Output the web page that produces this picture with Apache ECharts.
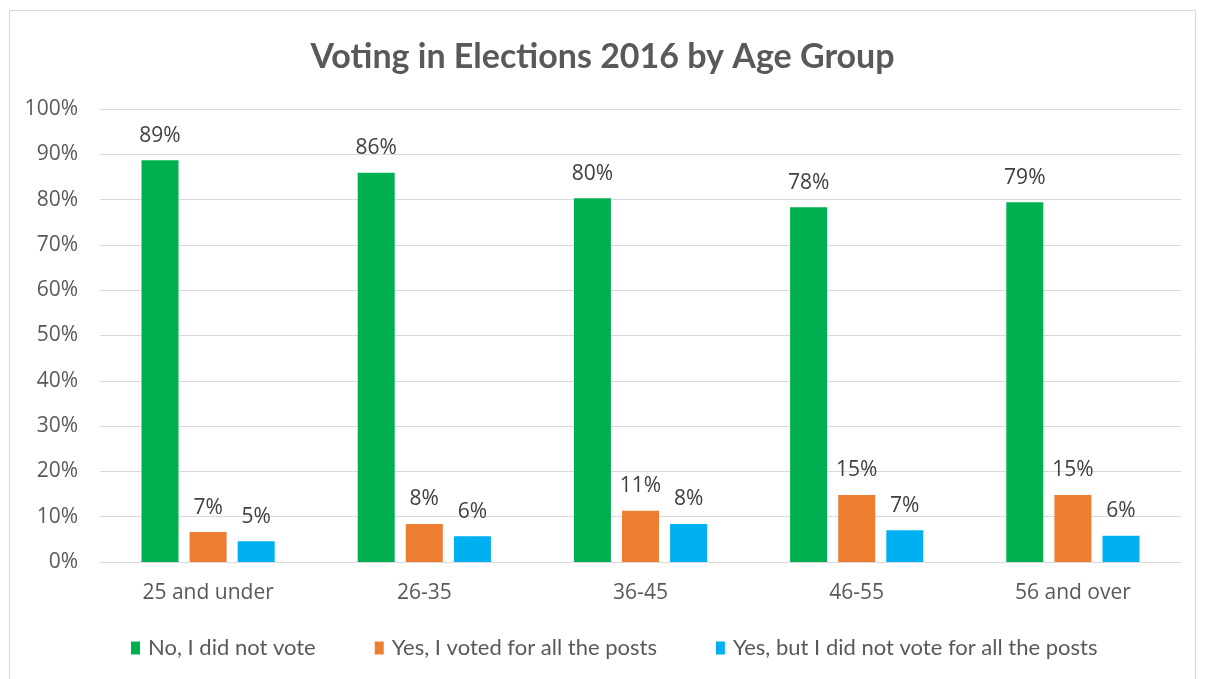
<!DOCTYPE html>
<html>
<head>
<meta charset="utf-8">
<script src="https://cdn.jsdelivr.net/npm/echarts@6/dist/echarts.min.js"></script>
<style>
  html, body { margin: 0; padding: 0; background: #fff; }
  #chart { width: 1205px; height: 679px; }
</style>
</head>
<body>
<div id="chart"></div>
<script>
// Age groups along the x axis
const categories = ['25 and under', '26-35', '36-45', '46-55', '56 and over'];

// Share of respondents (%) per answer
const noVote = [88.7, 85.9, 80.3, 78.3, 79.4];
const votedAll = [6.6, 8.4, 11.3, 14.8, 14.8];
const votedSome = [4.6, 5.7, 8.4, 7.0, 5.8];

const seriesNames = [
  'No, I did not vote',
  'Yes, I voted for all the posts',
  'Yes, but I did not vote for all the posts'
];

const yTicks = { min: 0, max: 100, interval: 10 };

const colors = ['#00B050', '#ED7D31', '#00B0F0'];
const labelFont = 'Open Sans, Noto Sans, sans-serif';
const titleFont = 'Lato, Noto Sans, sans-serif';

const chart = echarts.init(document.getElementById('chart'), null, { renderer: 'canvas' });

function barSeries(name, data, color) {
  return {
    name: name,
    type: 'bar',
    data: data,
    barWidth: 37,
    barGap: '30%',
    itemStyle: { color: color },
    label: {
      show: true,
      position: 'top',
      distance: 14,
      color: '#404040',
      fontFamily: labelFont,
      fontSize: 21,
      formatter: p => Math.round(p.value) + '%'
    }
  };
}

chart.setOption({
  animation: false,
  backgroundColor: '#ffffff',
  graphic: [{
    type: 'rect',
    shape: { x: 9.5, y: 10.5, width: 1186, height: 700 },
    style: { fill: 'none', stroke: '#d9d9d9', lineWidth: 1 },
    silent: true
  }],
  title: {
    text: 'Voting in Elections 2016 by Age Group',
    left: 'center',
    top: 35,
    textStyle: {
      fontFamily: titleFont,
      fontSize: 34,
      fontWeight: 'bold',
      color: '#595959'
    }
  },
  legend: {
    data: seriesNames,
    left: 126,
    top: 632,
    itemWidth: 9,
    itemHeight: 13,
    itemGap: 59,
    icon: 'rect',
    textStyle: {
      fontFamily: titleFont,
      fontSize: 22,
      color: '#595959',
      padding: [0, 0, 0, 3]
    }
  },
  grid: {
    left: 100,
    right: 24,
    top: 109,
    bottom: 117,
    containLabel: false
  },
  xAxis: {
    type: 'category',
    data: categories,
    axisLine: { lineStyle: { color: '#d9d9d9', width: 1 } },
    axisTick: { show: false },
    axisLabel: {
      margin: 21,
      color: '#595959',
      fontFamily: labelFont,
      fontSize: 21
    }
  },
  yAxis: {
    type: 'value',
    min: yTicks.min,
    max: yTicks.max,
    interval: yTicks.interval,
    axisLine: { show: false },
    axisTick: { show: false },
    splitLine: { lineStyle: { color: '#d9d9d9', width: 1 } },
    axisLabel: {
      formatter: '{value}%',
      margin: 22,
      color: '#595959',
      fontFamily: labelFont,
      fontSize: 21
    }
  },
  series: [
    barSeries(seriesNames[0], noVote, colors[0]),
    barSeries(seriesNames[1], votedAll, colors[1]),
    barSeries(seriesNames[2], votedSome, colors[2])
  ]
});
</script>
</body>
</html>
